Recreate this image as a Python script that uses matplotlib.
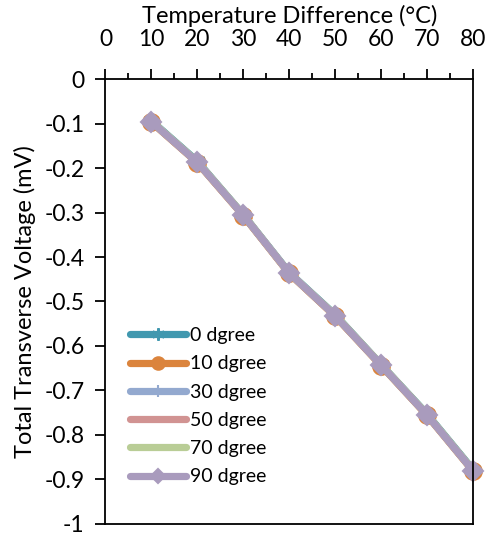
import matplotlib.pyplot as plt
from matplotlib.ticker import MultipleLocator, FuncFormatter

plt.rcParams['font.family'] = ['Lato', 'DejaVu Sans']

temp_diff = [10, 20, 30, 40, 50, 60, 70, 80]
v_0deg = [-0.094, -0.185, -0.305, -0.435, -0.530, -0.642, -0.753, -0.878]
v_10deg = [-0.097, -0.188, -0.307, -0.437, -0.533, -0.644, -0.756, -0.881]
v_30deg = [-0.096, -0.187, -0.306, -0.436, -0.532, -0.643, -0.755, -0.880]
v_50deg = [-0.096, -0.187, -0.306, -0.437, -0.532, -0.643, -0.755, -0.880]
v_70deg = [-0.095, -0.186, -0.305, -0.436, -0.531, -0.642, -0.754, -0.879]
v_90deg = [-0.096, -0.187, -0.306, -0.436, -0.532, -0.643, -0.755, -0.880]

labels = ['0 dgree', '10 dgree', '30 dgree', '50 dgree', '70 dgree', '90 dgree']
colors = ['#4198AF', '#DB843D', '#93A9CF', '#D19392', '#B9CD96', '#A99BBD']
markers = [(6, 2, 0), 'o', '+', None, None, 'D']
msizes = [12, 12, 12, 0, 0, 10]

fig = plt.figure(figsize=(4.87, 5.35), dpi=100)
ax = fig.add_axes([0.2166, 0.0206, 0.9713 - 0.2166, 0.8523 - 0.0206])

series = [v_0deg, v_10deg, v_30deg, v_50deg, v_70deg, v_90deg]
for vals, lab, c, m, ms in zip(series, labels, colors, markers, msizes):
    ax.plot(temp_diff, vals, color=c, lw=5.2, marker=m, ms=ms,
            mew=1.5, mec=c, mfc=c, label=lab, solid_capstyle='round',
            clip_on=False)

ax.set_xlim(0, 80)
ax.set_ylim(-1, 0)
ax.xaxis.tick_top()
ax.xaxis.set_label_position('top')
ax.xaxis.set_major_locator(MultipleLocator(10))
ax.xaxis.set_minor_locator(MultipleLocator(5))
ax.yaxis.set_major_locator(MultipleLocator(0.1))


def fmt_y(v, pos):
    s = '%.1f' % v
    if s in ('0.0', '-0.0'):
        return '0'
    if s == '-1.0':
        return '-1'
    return s


ax.yaxis.set_major_formatter(FuncFormatter(fmt_y))
ax.tick_params(axis='x', which='major', length=7, width=1.3, labelsize=16.5, pad=14)
ax.tick_params(axis='x', which='minor', length=4.5, width=1.3)
ax.tick_params(axis='y', length=7, width=1.3, labelsize=16.5, pad=8)

for s in ax.spines.values():
    s.set_linewidth(1.3)
    s.set_color('black')

ax.set_xlabel('Temperature Difference (°C)', fontsize=17, labelpad=4)
ax.set_ylabel('Total Transverse Voltage (mV)', fontsize=17, labelpad=6)

ax.legend(loc='upper left', bbox_to_anchor=(0.045, 0.46), frameon=False,
          fontsize=14, handlelength=2.9, handletextpad=0.2,
          labelspacing=0.58, borderaxespad=0, markerscale=0.75)

fig.savefig('out.png', dpi=100)
